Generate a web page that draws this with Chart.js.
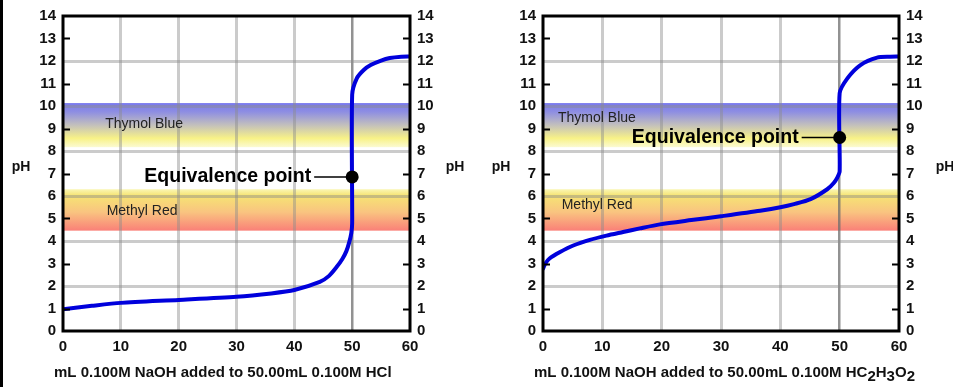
<!DOCTYPE html>
<html>
<head>
<meta charset="utf-8">
<script src="https://cdn.jsdelivr.net/npm/chart.js@4.4.0/dist/chart.umd.min.js"></script>
<style>
  html, body { margin: 0; padding: 0; background: #fff; }
  body { width: 953px; height: 387px; position: relative; overflow: hidden; }
  #edge { position: absolute; left: 0; top: 0; width: 3px; height: 387px; background: #000; }
  .box { position: absolute; top: 0; height: 387px; }
</style>
</head>
<body>
<div id="edge"></div>
<div class="box" style="left:0;width:480px"><canvas id="hclChart" width="480" height="387"></canvas></div>
<div class="box" style="left:480px;width:473px"><canvas id="aceticChart" width="473" height="387"></canvas></div>
<script>
// values
const volumeTicks = [0, 10, 20, 30, 40, 50, 60];
const phTicks = [0, 1, 2, 3, 4, 5, 6, 7, 8, 9, 10, 11, 12, 13, 14];

const hclVolume = [0, 5, 10, 20, 30, 36, 40, 44.4, 46, 47.3, 48.3, 49.0, 49.5, 49.85, 50, 50, 50.8, 52, 53.2, 55, 56.5, 58.5, 60];
const hclPH = [0.97, 1.12, 1.25, 1.38, 1.52, 1.67, 1.82, 2.18, 2.45, 2.84, 3.2, 3.55, 3.95, 4.35, 4.8, 10.5, 11.23, 11.6, 11.82, 12.02, 12.13, 12.19, 12.2];

const aceticVolume = [0, 0.4, 1.1, 2.8, 5.1, 7.9, 10.7, 13.5, 16.3, 19.7, 25, 30, 36.6, 40, 42.3, 45.1, 47.9, 49.0, 49.6, 50, 50, 51.3, 53.5, 56.3, 58.5, 60];
const aceticPH = [2.77, 3.0, 3.22, 3.5, 3.8, 4.05, 4.24, 4.4, 4.56, 4.74, 4.93, 5.1, 5.34, 5.5, 5.64, 5.86, 6.3, 6.58, 6.82, 7.1, 10.57, 11.23, 11.82, 12.15, 12.19, 12.2];

const equivVolume = [50, 50];
const equivPH = [6.85, 8.6];

const indicatorNames = ["Thymol Blue", "Methyl Red"];
const indicatorTop = [10.13, 6.3];
const indicatorBottom = [8.17, 4.46];

const FONT = "'Liberation Sans', Arial, sans-serif";

const bandStops = [
  [[0, "rgb(120,120,238)"], [0.2, "rgb(142,142,226)"], [0.5, "rgb(195,192,188)"], [0.8, "rgb(248,242,135)"], [1, "rgb(251,250,210)"]],
  [[0, "rgb(250,246,180)"], [0.15, "rgb(246,228,115)"], [0.55, "rgb(249,196,128)"], [1, "rgb(250,128,120)"]],
];

const decor = {
  id: "decor",
  beforeDraw(chart) {
    const { ctx, chartArea: a, scales: { y } } = chart;
    ctx.save();
    indicatorNames.forEach((name, i) => {
      const top = y.getPixelForValue(indicatorTop[i]);
      const bot = y.getPixelForValue(indicatorBottom[i]);
      const g = ctx.createLinearGradient(0, top, 0, bot);
      bandStops[i].forEach(([p, c]) => g.addColorStop(p, c));
      ctx.fillStyle = g;
      ctx.fillRect(a.left, top, a.right - a.left, bot - top);
    });
    ctx.restore();
  },
  beforeDatasetsDraw(chart, args, opts) {
    const { ctx, scales: { x, y } } = chart;
    ctx.save();
    // indicator names
    ctx.font = "14px " + FONT;
    ctx.fillStyle = "#222";
    ctx.textAlign = "left";
    ctx.textBaseline = "middle";
    indicatorNames.forEach((name, i) => {
      const [lx, ly] = opts.labelAt[i];
      ctx.fillText(name, x.getPixelForValue(lx), y.getPixelForValue(ly));
    });
    // equivalence point caption + leader
    const px = x.getPixelForValue(equivVolume[opts.which]);
    const py = y.getPixelForValue(equivPH[opts.which]);
    ctx.font = "bold 19.5px " + FONT;
    ctx.fillStyle = "#000";
    ctx.textAlign = "right";
    ctx.fillText("Equivalence point", px - 41, py);
    ctx.strokeStyle = "#000";
    ctx.lineWidth = 1.5;
    ctx.beginPath();
    ctx.moveTo(px - 38, py);
    ctx.lineTo(px, py);
    ctx.stroke();
    ctx.restore();
  },
  afterDraw(chart, args, opts) {
    const { ctx, chartArea: a, scales: { y } } = chart;
    ctx.save();
    ctx.strokeStyle = "#000";
    ctx.lineWidth = 3;
    ctx.strokeRect(a.left, a.top, a.right - a.left, a.bottom - a.top);
    ctx.lineWidth = 2;
    phTicks.filter((v) => v % 2 === 1).forEach((v) => {
      const py = Math.round(y.getPixelForValue(v)) + 0.5;
      ctx.beginPath();
      ctx.moveTo(a.left, py);
      ctx.lineTo(a.left + 7, py);
      ctx.moveTo(a.right - 7, py);
      ctx.lineTo(a.right, py);
      ctx.stroke();
    });
    ctx.fillStyle = "#111";
    ctx.font = "bold 14px " + FONT;
    ctx.textAlign = "center";
    ctx.textBaseline = "middle";
    ctx.fillText("pH", a.left - 42, 167);
    ctx.fillText("pH", a.right + opts.rightPH, 167);
    // x title, with lowered subscripts
    ctx.font = "bold 15px " + FONT;
    ctx.textAlign = "left";
    let tx = 54;
    opts.title.forEach(([text, dy]) => {
      ctx.fillText(text, tx, 373 + dy);
      tx += ctx.measureText(text).width;
    });
    ctx.restore();
  },
};

function makeChart(id, volume, ph, which, rightWidth, extra) {
  const tickFont = { family: FONT, size: 15, weight: "bold" };
  const phAxis = (pos) => ({
    type: "linear",
    position: pos,
    min: 0,
    max: 14,
    afterBuildTicks: (s) => { s.ticks = phTicks.map((v) => ({ value: v })); },
    afterFit: (s) => { s.width = pos === "left" ? 63 : rightWidth; },
    border: { display: false },
    grid: {
      display: pos === "left",
      drawTicks: false,
      lineWidth: 3,
      color: (c) => (c.tick && c.tick.value % 2 === 0 && c.tick.value > 0 && c.tick.value < 14 ? "rgba(140,140,140,0.45)" : "rgba(0,0,0,0)"),
    },
    ticks: { font: tickFont, color: "#111", padding: 7 },
  });

  return new Chart(document.getElementById(id), {
    type: "line",
    data: {
      datasets: [
        {
          data: [{ x: equivVolume[which], y: equivPH[which] }],
          showLine: false,
          pointRadius: 6.5,
          pointBackgroundColor: "#000",
          pointBorderWidth: 0,
        },
        {
          data: volume.map((v, i) => ({ x: v, y: ph[i] })),
          borderColor: "#0000dc",
          borderWidth: 4,
          pointRadius: 0,
          tension: 0.25,
          borderCapStyle: "round",
          borderJoinStyle: "round",
        },
      ],
    },
    options: {
      responsive: false,
      animation: false,
      layout: { padding: { top: 14, left: 0, right: 0, bottom: 0 } },
      scales: {
        x: {
          type: "linear",
          min: 0,
          max: 60,
          afterBuildTicks: (s) => { s.ticks = volumeTicks.map((v) => ({ value: v })); },
          afterFit: (s) => { s.height = 56; },
          border: { display: false },
          grid: {
            drawTicks: false,
            lineWidth: (c) => (c.tick && c.tick.value === 50 ? 2.5 : 3),
            color: (c) => {
              const v = c.tick ? c.tick.value : 0;
              if (v === 0 || v === 60) return "rgba(0,0,0,0)";
              return v === 50 ? "rgba(110,110,110,0.75)" : "rgba(140,140,140,0.45)";
            },
          },
          ticks: { font: tickFont, color: "#111", padding: 7, maxRotation: 0 },
        },
        y: phAxis("left"),
        y2: phAxis("right"),
      },
      plugins: {
        legend: { display: false },
        tooltip: { enabled: false },
        decor: Object.assign({ which }, extra),
      },
    },
    plugins: [decor],
  });
}

makeChart("hclChart", hclVolume, hclPH, 0, 70, {
  labelAt: [[7.3, 9.19], [7.55, 5.34]],
  rightPH: 45,
  title: [["mL 0.100M NaOH added to 50.00mL 0.100M HCl", 0]],
});

makeChart("aceticChart", aceticVolume, aceticPH, 1, 54, {
  labelAt: [[2.53, 9.47], [3.15, 5.61]],
  rightPH: 46,
  title: [["mL 0.100M NaOH added to 50.00mL 0.100M HC", 0], ["2", 4], ["H", 0], ["3", 4], ["O", 0], ["2", 4]],
});
</script>
</body>
</html>
